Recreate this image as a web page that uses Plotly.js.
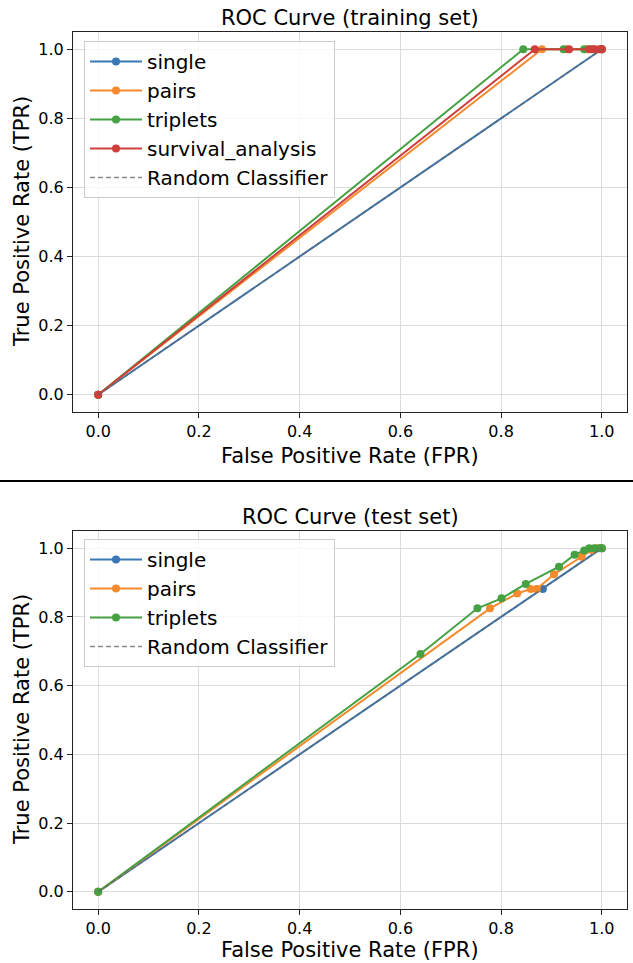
<!DOCTYPE html>
<html>
<head>
<meta charset="utf-8">
<script src="https://cdn.plot.ly/plotly-3.0.1.min.js"></script>
<style>html,body{margin:0;padding:0;background:#fff;}#chart{width:633px;height:963px;}</style>
</head>
<body>
<div id="chart"></div>
<script>
// ---- data ----
const tickVals = [0, 0.2, 0.4, 0.6, 0.8, 1.0];
const tickText = ["0.0", "0.2", "0.4", "0.6", "0.8", "1.0"];

const trainSingleFPR = [0, 1.0];
const trainSingleTPR = [0, 1.0];
const trainPairsFPR = [0, 0.881, 0.93, 0.97, 0.985, 1.0];
const trainPairsTPR = [0, 1.0, 1.0, 1.0, 1.0, 1.0];
const trainTripletsFPR = [0, 0.844, 0.924, 0.965, 0.98, 1.0];
const trainTripletsTPR = [0, 1.0, 1.0, 1.0, 1.0, 1.0];
const trainSurvivalFPR = [0, 0.867, 0.935, 0.975, 0.985, 0.995, 1.0];
const trainSurvivalTPR = [0, 1.0, 1.0, 1.0, 1.0, 1.0, 1.0];

const testSingleFPR = [0, 0.883, 1.0];
const testSingleTPR = [0, 0.881, 1.0];
const testPairsFPR = [0, 0.778, 0.832, 0.859, 0.871, 0.905, 0.96, 0.98, 0.99, 1.0];
const testPairsTPR = [0, 0.825, 0.868, 0.881, 0.881, 0.924, 0.975, 0.995, 1.0, 1.0];
const testTripletsFPR = [0, 0.64, 0.753, 0.801, 0.849, 0.915, 0.946, 0.965, 0.975, 0.985, 0.995, 1.0];
const testTripletsTPR = [0, 0.692, 0.825, 0.854, 0.896, 0.946, 0.981, 0.993, 1.0, 1.0, 1.0, 1.0];

const randomX = [0, 1];
const randomY = [0, 1];

const C = {single: '#3a78b5', pairs: '#f58a2e', triplets: '#46a142', survival: '#cf3e3b'};

function series(x, y, name, color, xa, ya, leg) {
  return {x: x, y: y, name: name, type: 'scatter', mode: 'lines+markers',
    line: {color: color, width: 2}, marker: {color: color, size: 8},
    xaxis: xa, yaxis: ya, legend: leg};
}
function randomLine(xa, ya, leg) {
  return {x: randomX, y: randomY, name: 'Random Classifier', type: 'scatter', mode: 'lines',
    line: {color: 'rgba(100,100,100,0.75)', width: 1.5, dash: '5px,3px'}, xaxis: xa, yaxis: ya, legend: leg};
}

const data = [
  series(trainSingleFPR, trainSingleTPR, 'single', C.single, 'x', 'y', 'legend'),
  series(trainPairsFPR, trainPairsTPR, 'pairs', C.pairs, 'x', 'y', 'legend'),
  series(trainTripletsFPR, trainTripletsTPR, 'triplets', C.triplets, 'x', 'y', 'legend'),
  series(trainSurvivalFPR, trainSurvivalTPR, 'survival_analysis', C.survival, 'x', 'y', 'legend'),
  randomLine('x', 'y', 'legend'),
  series(testSingleFPR, testSingleTPR, 'single', C.single, 'x2', 'y2', 'legend2'),
  series(testPairsFPR, testPairsTPR, 'pairs', C.pairs, 'x2', 'y2', 'legend2'),
  series(testTripletsFPR, testTripletsTPR, 'triplets', C.triplets, 'x2', 'y2', 'legend2'),
  randomLine('x2', 'y2', 'legend2')
];

const FAM = 'DejaVu Sans, sans-serif';
const font = {family: FAM, color: '#000'};
function axis(domain, anchor) {
  return {domain: domain, anchor: anchor, range: [-0.05, 1.05], tickvals: tickVals, ticktext: tickText,
    showgrid: true, gridcolor: '#dcdcdc', gridwidth: 1, zeroline: false,
    showline: true, mirror: true, linecolor: '#222', linewidth: 1,
    ticks: 'outside', ticklen: 5, tickcolor: '#222', tickfont: {family: FAM, size: 16, color: '#000'}};
}
const xd = [73/633, 627/633];
const legendStyle = {bgcolor: 'rgba(255,255,255,0.8)', bordercolor: '#cccccc', borderwidth: 1,
  font: {family: FAM, size: 20, color: '#000'}, xanchor: 'left', yanchor: 'top', itemwidth: 52, tracegroupgap: 0};

function ann(text, x, y, angle) {
  return {text: text, xref: 'paper', yref: 'paper', x: x/633, y: 1-y/963, xanchor: 'center', yanchor: 'middle',
    textangle: angle || 0, showarrow: false, font: {size: 21, family: FAM, color: '#000'}};
}

const layout = {
  width: 633, height: 963, margin: {l: 0, r: 0, t: 0, b: 0},
  paper_bgcolor: '#fff', plot_bgcolor: '#fff', showlegend: true, font: font,
  xaxis: axis(xd, 'y'),
  yaxis: axis([1-412/963, 1-32/963], 'x'),
  xaxis2: axis(xd, 'y2'),
  yaxis2: axis([1-909/963, 1-531/963], 'x2'),
  legend: Object.assign({x: 84/633, y: 1-41/963}, legendStyle),
  legend2: Object.assign({x: 84/633, y: 1-539/963}, legendStyle),
  shapes: [{type: 'line', xref: 'paper', yref: 'paper', x0: 0, x1: 1, y0: 1-481/963, y1: 1-481/963,
    line: {color: '#000', width: 2}}],
  annotations: [
    ann('ROC Curve (training set)', 350, 18),
    ann('False Positive Rate (FPR)', 350, 456),
    ann('True Positive Rate (TPR)', 22, 222, -90),
    ann('ROC Curve (test set)', 350, 517),
    ann('False Positive Rate (FPR)', 350, 950),
    ann('True Positive Rate (TPR)', 22, 720, -90)
  ]
};

Plotly.newPlot('chart', data, layout, {displayModeBar: false, staticPlot: true});
</script>
</body>
</html>
